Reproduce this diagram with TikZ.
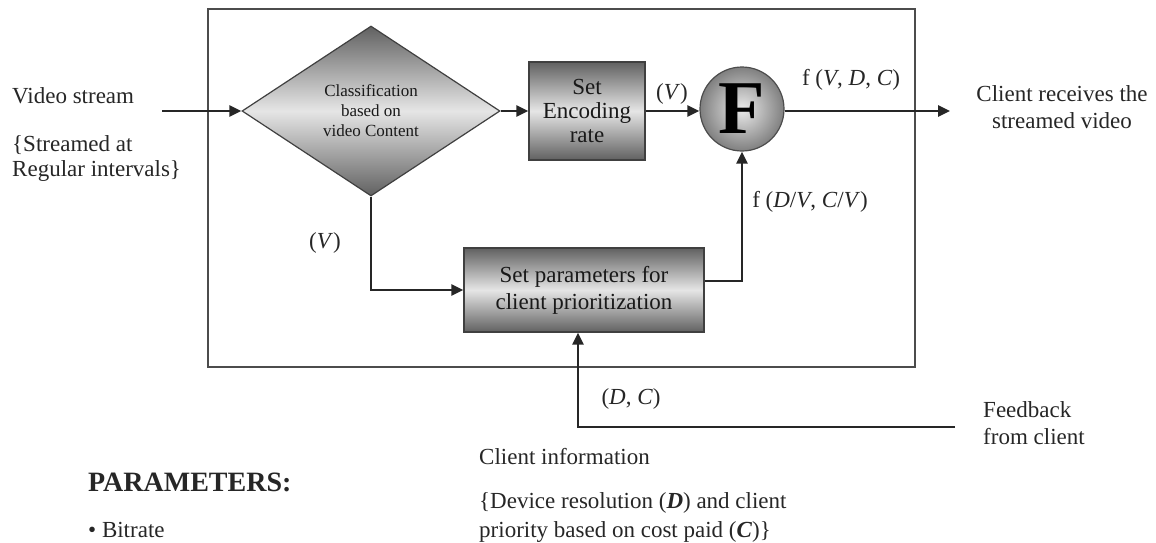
\documentclass[tikz,border=0pt]{standalone}
\usepackage{fontspec}
\setmainfont{Liberation Serif}
\usetikzlibrary{arrows.meta,shapes.geometric,calc}
\pgfdeclareverticalshading{vbox}{100bp}{color(0bp)=(black!62); color(25bp)=(black!62); color(50bp)=(black!10); color(75bp)=(black!62); color(100bp)=(black!62)}
\tikzset{
  txt/.style={inner sep=0pt, text=black!85, font=\fontsize{23}{27}\selectfont},
  arr/.style={line width=2.6pt, draw=black!85, -{Triangle[length=12pt,width=11pt]}},
  frame/.style={draw=black!70, line width=1.6pt},
  shadebox/.style={draw=black!75, line width=1.2pt, text=black!90, inner sep=0pt, shading=vbox},
}
\begin{document}
\begin{tikzpicture}[x=1pt,y=-1pt]
\useasboundingbox (0,0) rectangle (1156,542);
% outer frame
\draw[frame] (208,9) rectangle (915,367);
% main blocks
\node[shadebox, diamond, minimum width=258pt, minimum height=170pt, align=center,
      font=\fontsize{17}{20}\selectfont] (dia) at (371,111)
      {Classification\\based on\\video Content};
\node[shadebox, rectangle, minimum width=116pt, minimum height=98pt, align=center,
      font=\fontsize{23}{24}\selectfont] (enc) at (587,111) {Set\\Encoding\\rate};
\node[circle, draw=black!70, line width=1.2pt, minimum size=84pt, inner sep=0pt,
      shading=radial, inner color=black!8, outer color=black!50,
      font=\fontsize{76}{76}\selectfont\bfseries] (F) at (742,109) {F};
\node[shadebox, rectangle, minimum width=240pt, minimum height=84pt, align=center,
      font=\fontsize{23}{27}\selectfont] (par) at (584,290)
      {Set parameters for\\client prioritization};
% connectors
\coordinate (vin) at (162,111);
\coordinate (vout) at (950,111);
\coordinate (fb) at (955,427);
\draw[arr] (vin) -- (dia.west);
\draw[arr] (dia.east) -- (enc.west);
\draw[arr] (enc.east) -- (enc.east -| F.west);
\draw[arr] (enc.east -| F.east) -- (vout);
\draw[arr] (dia.south) |- (par.west);
\draw[arr] ([yshift=9pt]par.east) -| (F.south);
\draw[arr] (fb) -| ([xshift=-6pt]par.south);
% labels
\node[txt, anchor=west] (l1) at (12,96) {Video stream};
\node[txt, anchor=west, align=left, font=\fontsize{23}{25}\selectfont] (l2) at (12,158) {\{Streamed at\\Regular intervals\}};
\node[txt] (lv1) at (672,94) {(\textit{V})};
\node[txt] (lf1) at (851,80) {f (\textit{V}, \textit{D}, \textit{C})};
\node[txt] (lf2) at (810,202) {f (\textit{D}/\textit{V}, \textit{C}/\textit{V})};
\node[txt] (lv2) at (325,243) {(\textit{V})};
\node[txt] (ldc) at (631,399) {(\textit{D}, \textit{C})};
\node[txt, align=center, font=\fontsize{23}{27}\selectfont] (lcr) at (1062,107) {Client receives the\\streamed video};
\node[txt, anchor=west, align=left, font=\fontsize{23}{27}\selectfont] (lfb) at (983,423) {Feedback\\from client};
\node[txt, anchor=west] (lci) at (479,457) {Client information};
\node[txt, anchor=west, align=left, font=\fontsize{23}{29}\selectfont] (ldev) at (479,517)
  {\{Device resolution (\textbf{\textit{D}}) and client\\priority based on cost paid (\textbf{\textit{C}})\}};
\node[txt, anchor=west, font=\fontsize{28}{30}\selectfont\bfseries] (lpar) at (88,482) {PARAMETERS:};
\node[txt, anchor=west, font=\fontsize{23}{26}\selectfont] (lbit) at (88,530) {• Bitrate};
\end{tikzpicture}
\end{document}
